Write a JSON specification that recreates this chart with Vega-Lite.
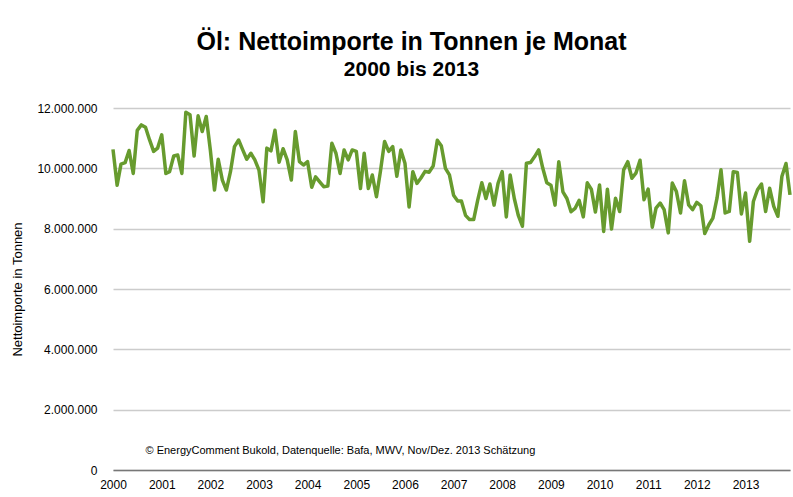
{
  "$schema": "https://vega.github.io/schema/vega-lite/v6.json",
  "width": 677,
  "height": 362,
  "autosize": {"type": "none"},
  "padding": {"left": 113, "top": 108, "right": 3, "bottom": 27},
  "background": "white",
  "config": {
    "locale": {"number": {"decimal": ",", "thousands": ".", "grouping": [3], "currency": ["", " €"]}},
    "view": {"stroke": null},
    "font": "Liberation Sans"
  },
  "title": {
    "text": "Öl: Nettoimporte in Tonnen je Monat",
    "subtitle": "2000 bis 2013",
    "anchor": "middle",
    "dx": -40,
    "offset": 22,
    "font": "Liberation Sans",
    "fontSize": 25,
    "fontWeight": "bold",
    "color": "#000000",
    "subtitleFont": "Liberation Sans",
    "subtitleFontSize": 21,
    "subtitleFontWeight": "bold",
    "subtitleColor": "#000000",
    "subtitlePadding": 4
  },
  "data": {"values": [
    {"m":"2000-01-01","v":10630000},{"m":"2000-02-01","v":9440000},{"m":"2000-03-01","v":10140000},{"m":"2000-04-01","v":10190000},{"m":"2000-05-01","v":10590000},{"m":"2000-06-01","v":9830000},{"m":"2000-07-01","v":11260000},{"m":"2000-08-01","v":11440000},{"m":"2000-09-01","v":11360000},{"m":"2000-10-01","v":10950000},{"m":"2000-11-01","v":10560000},{"m":"2000-12-01","v":10670000},
    {"m":"2001-01-01","v":11110000},{"m":"2001-02-01","v":9830000},{"m":"2001-03-01","v":9890000},{"m":"2001-04-01","v":10410000},{"m":"2001-05-01","v":10440000},{"m":"2001-06-01","v":9830000},{"m":"2001-07-01","v":11860000},{"m":"2001-08-01","v":11780000},{"m":"2001-09-01","v":10410000},{"m":"2001-10-01","v":11740000},{"m":"2001-11-01","v":11220000},{"m":"2001-12-01","v":11720000},
    {"m":"2002-01-01","v":10600000},{"m":"2002-02-01","v":9280000},{"m":"2002-03-01","v":10300000},{"m":"2002-04-01","v":9610000},{"m":"2002-05-01","v":9280000},{"m":"2002-06-01","v":9890000},{"m":"2002-07-01","v":10720000},{"m":"2002-08-01","v":10940000},{"m":"2002-09-01","v":10610000},{"m":"2002-10-01","v":10300000},{"m":"2002-11-01","v":10500000},{"m":"2002-12-01","v":10280000},
    {"m":"2003-01-01","v":9940000},{"m":"2003-02-01","v":8890000},{"m":"2003-03-01","v":10670000},{"m":"2003-04-01","v":10580000},{"m":"2003-05-01","v":11260000},{"m":"2003-06-01","v":10200000},{"m":"2003-07-01","v":10650000},{"m":"2003-08-01","v":10280000},{"m":"2003-09-01","v":9610000},{"m":"2003-10-01","v":11220000},{"m":"2003-11-01","v":10220000},{"m":"2003-12-01","v":10110000},
    {"m":"2004-01-01","v":10220000},{"m":"2004-02-01","v":9370000},{"m":"2004-03-01","v":9720000},{"m":"2004-04-01","v":9550000},{"m":"2004-05-01","v":9390000},{"m":"2004-06-01","v":9410000},{"m":"2004-07-01","v":10830000},{"m":"2004-08-01","v":10500000},{"m":"2004-09-01","v":9830000},{"m":"2004-10-01","v":10610000},{"m":"2004-11-01","v":10280000},{"m":"2004-12-01","v":10610000},
    {"m":"2005-01-01","v":10560000},{"m":"2005-02-01","v":9330000},{"m":"2005-03-01","v":10500000},{"m":"2005-04-01","v":9330000},{"m":"2005-05-01","v":9780000},{"m":"2005-06-01","v":9060000},{"m":"2005-07-01","v":9900000},{"m":"2005-08-01","v":10890000},{"m":"2005-09-01","v":10560000},{"m":"2005-10-01","v":10720000},{"m":"2005-11-01","v":9740000},{"m":"2005-12-01","v":10610000},
    {"m":"2006-01-01","v":10170000},{"m":"2006-02-01","v":8720000},{"m":"2006-03-01","v":9890000},{"m":"2006-04-01","v":9500000},{"m":"2006-05-01","v":9680000},{"m":"2006-06-01","v":9900000},{"m":"2006-07-01","v":9870000},{"m":"2006-08-01","v":10080000},{"m":"2006-09-01","v":10930000},{"m":"2006-10-01","v":10750000},{"m":"2006-11-01","v":10000000},{"m":"2006-12-01","v":9780000},
    {"m":"2007-01-01","v":9110000},{"m":"2007-02-01","v":8920000},{"m":"2007-03-01","v":8920000},{"m":"2007-04-01","v":8440000},{"m":"2007-05-01","v":8300000},{"m":"2007-06-01","v":8300000},{"m":"2007-07-01","v":8940000},{"m":"2007-08-01","v":9520000},{"m":"2007-09-01","v":9000000},{"m":"2007-10-01","v":9480000},{"m":"2007-11-01","v":8780000},{"m":"2007-12-01","v":9500000},
    {"m":"2008-01-01","v":9890000},{"m":"2008-02-01","v":8390000},{"m":"2008-03-01","v":9780000},{"m":"2008-04-01","v":9000000},{"m":"2008-05-01","v":8440000},{"m":"2008-06-01","v":8080000},{"m":"2008-07-01","v":10170000},{"m":"2008-08-01","v":10190000},{"m":"2008-09-01","v":10390000},{"m":"2008-10-01","v":10610000},{"m":"2008-11-01","v":10000000},{"m":"2008-12-01","v":9520000},
    {"m":"2009-01-01","v":9440000},{"m":"2009-02-01","v":8780000},{"m":"2009-03-01","v":10220000},{"m":"2009-04-01","v":9220000},{"m":"2009-05-01","v":9000000},{"m":"2009-06-01","v":8560000},{"m":"2009-07-01","v":8670000},{"m":"2009-08-01","v":8940000},{"m":"2009-09-01","v":8390000},{"m":"2009-10-01","v":9520000},{"m":"2009-11-01","v":9300000},{"m":"2009-12-01","v":8550000},
    {"m":"2010-01-01","v":9450000},{"m":"2010-02-01","v":7910000},{"m":"2010-03-01","v":9310000},{"m":"2010-04-01","v":7990000},{"m":"2010-05-01","v":9010000},{"m":"2010-06-01","v":8570000},{"m":"2010-07-01","v":9950000},{"m":"2010-08-01","v":10220000},{"m":"2010-09-01","v":9670000},{"m":"2010-10-01","v":9840000},{"m":"2010-11-01","v":10270000},{"m":"2010-12-01","v":8960000},
    {"m":"2011-01-01","v":9310000},{"m":"2011-02-01","v":8050000},{"m":"2011-03-01","v":8680000},{"m":"2011-04-01","v":8850000},{"m":"2011-05-01","v":8630000},{"m":"2011-06-01","v":7860000},{"m":"2011-07-01","v":9510000},{"m":"2011-08-01","v":9230000},{"m":"2011-09-01","v":8520000},{"m":"2011-10-01","v":9590000},{"m":"2011-11-01","v":8790000},{"m":"2011-12-01","v":8630000},
    {"m":"2012-01-01","v":8870000},{"m":"2012-02-01","v":8760000},{"m":"2012-03-01","v":7840000},{"m":"2012-04-01","v":8130000},{"m":"2012-05-01","v":8350000},{"m":"2012-06-01","v":9010000},{"m":"2012-07-01","v":9950000},{"m":"2012-08-01","v":8520000},{"m":"2012-09-01","v":8570000},{"m":"2012-10-01","v":9890000},{"m":"2012-11-01","v":9860000},{"m":"2012-12-01","v":8490000},
    {"m":"2013-01-01","v":9180000},{"m":"2013-02-01","v":7580000},{"m":"2013-03-01","v":8900000},{"m":"2013-04-01","v":9290000},{"m":"2013-05-01","v":9480000},{"m":"2013-06-01","v":8570000},{"m":"2013-07-01","v":9340000},{"m":"2013-08-01","v":8740000},{"m":"2013-09-01","v":8410000},{"m":"2013-10-01","v":9730000},{"m":"2013-11-01","v":10160000},{"m":"2013-12-01","v":9120000}
  ]},
  "layer": [
    {
      "mark": {"type": "line", "color": "#679b2e", "strokeWidth": 3.5, "strokeJoin": "round", "clip": false},
      "encoding": {
        "x": {
          "field": "m", "type": "temporal",
          "scale": {"domain": ["2000-01-01", "2013-12-01"]},
          "axis": {
            "title": null, "format": "%Y", "tickCount": {"interval": "year", "step": 1},
            "grid": false, "ticks": false,
            "domainColor": "#777777", "domainWidth": 1.5,
            "labelFont": "Liberation Sans", "labelFontSize": 12, "labelColor": "#000000",
            "labelPadding": 9, "labelFlush": false, "labelOverlap": false
          }
        },
        "y": {
          "field": "v", "type": "quantitative",
          "scale": {"domain": [0, 12000000], "nice": false},
          "axis": {
            "title": "Nettoimporte in Tonnen",
            "values": [0, 2000000, 4000000, 6000000, 8000000, 10000000, 12000000],
            "format": ",d",
            "grid": true, "gridColor": "#cccccc", "gridWidth": 1.5,
            "domain": false, "ticks": false,
            "labelFont": "Liberation Sans", "labelFontSize": 12, "labelColor": "#000000",
            "labelPadding": 16,
            "titleFont": "Liberation Sans", "titleFontSize": 13, "titleFontWeight": "normal",
            "titleColor": "#000000", "titlePadding": 12
          }
        }
      }
    },
    {
      "data": {"values": [{"label": "© EnergyComment Bukold, Datenquelle: Bafa, MWV, Nov/Dez. 2013 Schätzung"}]},
      "mark": {"type": "text", "align": "left", "baseline": "middle", "font": "Liberation Sans", "fontSize": 11, "color": "#000000"},
      "encoding": {
        "text": {"field": "label"},
        "x": {"datum": {"year": 2000, "month": 9, "date": 1}, "type": "temporal"},
        "y": {"datum": 620000, "type": "quantitative"}
      }
    }
  ]
}
